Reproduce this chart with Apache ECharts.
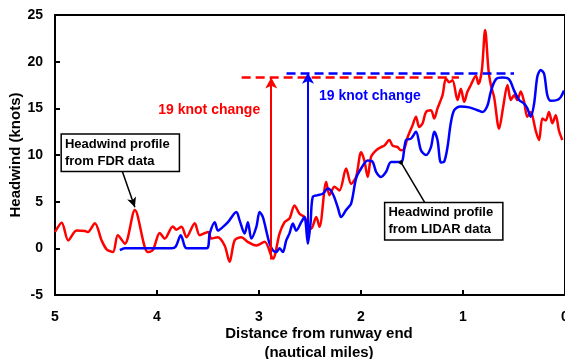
<!DOCTYPE html>
<html>
<head>
<meta charset="utf-8">
<script src="https://cdn.jsdelivr.net/npm/echarts@6/dist/echarts.min.js"></script>
<style>
	html, body { margin: 0; padding: 0; background: #fff; }
	#main { width: 565px; height: 359px; }
</style>
</head>
<body>
<div id="main"></div>
<script>
// distance from runway end (nm) / headwind (knots)
var fdrDist = [5.00, 4.934, 4.870, 4.788, 4.706, 4.677, 4.609, 4.543, 4.494, 4.432, 4.384, 4.315, 4.217,
	4.090, 4.041, 3.973, 3.924, 3.845, 3.809, 3.760, 3.711, 3.630, 3.581, 3.500, 3.467, 3.405, 3.337,
	3.288, 3.239, 3.173, 3.112, 3.026, 2.945, 2.864, 2.798, 2.750, 2.701, 2.652, 2.603, 2.554, 2.488,
	2.439, 2.407, 2.341, 2.309, 2.260, 2.211, 2.146, 2.097, 2.048, 1.999, 1.967, 1.934, 1.901, 1.852,
	1.803, 1.771, 1.722, 1.690, 1.641, 1.608, 1.575, 1.543, 1.494, 1.461, 1.429, 1.396, 1.363, 1.314,
	1.282, 1.250, 1.201, 1.167, 1.135, 1.103, 1.054, 1.021, 0.988, 0.956, 0.923, 0.874, 0.848, 0.815,
	0.783, 0.750, 0.727, 0.695, 0.646, 0.607, 0.564, 0.531, 0.499, 0.467, 0.434, 0.401, 0.369, 0.336,
	0.287, 0.254, 0.222, 0.189, 0.157, 0.124, 0.091, 0.059, 0.026];
var fdrKnots = [1.75, 2.75, 0.85, 1.9, 1.85, 1.75, 2.7, 0.85, -0.1, -0.4, 1.4, 0.5, 4.1,
	-0.4, -0.2, 1.65, 1.05, 2.35, 2.0, 2.3, 1.2, 2.7, 1.4, 1.75, 1.05, 1.2, 0.3,
	-1.45, 0.85, 1.2, 0.7, 0.3, 0.7, -1.1, 1.6, 2.8, 3.2, 4.6, 3.7, 3.35, 2.1,
	3.35, 2.3, 7.1, 5.7, 6.6, 6.2, 8.55, 6.9, 7.65, 10.3, 9.4, 7.65, 9.8, 10.5,
	10.85, 11.0, 11.6, 11.0, 10.85, 10.5, 10.7, 11.9, 13.2, 14.1, 13.0, 13.4, 14.6, 14.8,
	13.9, 15.0, 16.4, 18.2, 17.8, 18.0, 15.9, 17.1, 15.7, 16.8, 17.5, 18.5, 17.6, 19.1,
	23.4, 19.1, 17.5, 16.2, 12.8, 15.1, 17.5, 15.9, 16.4, 15.9, 16.8, 15.7, 14.1, 14.6,
	12.6, 11.6, 13.9, 13.7, 14.6, 13.4, 14.25, 12.6, 11.6];

var lidarDist = [4.364, 4.315, 3.855, 3.816, 3.767, 3.728, 3.708, 3.513, 3.483, 3.434, 3.402, 3.353,
	3.304, 3.222, 3.190, 3.141, 3.109, 3.075, 3.026, 2.994, 2.962, 2.929, 2.896, 2.864, 2.831, 2.798,
	2.766, 2.733, 2.701, 2.668, 2.635, 2.586, 2.554, 2.521, 2.495, 2.473, 2.424, 2.375, 2.326, 2.277,
	2.228, 2.195, 2.146, 2.097, 2.048, 1.999, 1.934, 1.885, 1.852, 1.803, 1.754, 1.705, 1.608, 1.559,
	1.510, 1.461, 1.412, 1.363, 1.314, 1.282, 1.250, 1.216, 1.184, 1.152, 1.120, 1.086, 1.025, 0.939,
	0.858, 0.809, 0.760, 0.727, 0.678, 0.614, 0.548, 0.499, 0.450, 0.401, 0.369, 0.336, 0.303, 0.271,
	0.238, 0.205, 0.173, 0.140, 0.075, 0.042, 0.010];
var lidarKnots = [-0.2, 0, 0, 0.2, 1.4, 0.2, 0, 0, 1.6, 2.8, 1.9, 2.3,
	2.8, 3.9, 3.0, 1.6, 2.8, 1.05, 2.3, 3.9, 3.35, 1.9, 0.5, -0.2, -0.4, 0,
	-0.4, 0.85, 1.6, 2.65, 1.9, 2.8, 3.35, 0.5, 2.7, 5.5, 5.7, 5.85, 6.4, 5.85,
	4.4, 3.35, 4.1, 4.8, 7.5, 8.55, 9.4, 9.25, 8.2, 7.65, 8.2, 9.25, 9.25, 11.6,
	11.75, 12.5, 10.5, 10.0, 10.85, 12.5, 11.6, 9.2, 9.3, 10.85, 13.4, 14.8, 15.2, 15.1,
	14.8, 14.6, 15.3, 16.8, 18.1, 18.3, 18.1, 16.9, 15.9, 15.5, 15.0, 14.1, 15.5, 18.4,
	19.1, 18.7, 16.4, 15.8, 15.9, 16.2, 16.9];

// annotations: [distance, knots]
var fdrLevel = [[3.17, 18.3], [1.04, 18.3]];
var lidarLevel = [[2.73, 18.8], [0.50, 18.8]];
var fdrArrow = [[2.88, -1.2], [2.88, 18.3]];
var lidarArrow = [[2.52, 0.5], [2.52, 18.8]];
var fdrChangeText = [3.488, 14.8];
var lidarChangeText = [1.913, 16.3];
var fdrBox = [4.932, 10.24];
var lidarBox = [1.761, 2.89];
var fdrPointer = [[4.344, 8.36], [4.217, 4.39]];
var lidarPointer = [[1.37, 4.82], [1.608, 9.2]];

var xTicks = [0, 1, 2, 3, 4, 5];
var yTicks = [-5, 0, 5, 10, 15, 20, 25];

function pairs(xs, ys) {
	var out = [];
	for (var i = 0; i < xs.length; i++) {
		out.push([xs[i], ys[i]]);
	}
	return out;
}

var FONT = "'Liberation Sans', Arial, sans-serif";

function boxLabel(text) {
	return {
		show : true,
		position : 'inside',
		align : 'left',
		verticalAlign : 'middle',
		formatter : text,
		color : '#000',
		fontFamily : FONT,
		fontWeight : 'bold',
		fontSize : 13,
		lineHeight : 17,
		backgroundColor : '#fff',
		borderColor : '#000',
		borderWidth : 1.5,
		padding : [ 1, 9, 1, 3 ]
	};
}

function changeLabel(color) {
	return {
		show : true,
		position : 'inside',
		formatter : '19 knot change',
		color : color,
		fontFamily : FONT,
		fontWeight : 'bold',
		fontSize : 14
	};
}

var myChart = echarts.init(document.getElementById('main'));
var option = {
	animation : false,
	grid : {
		left : 55,
		right : 0,
		top : 15,
		bottom : 64,
		outerBoundsMode : 'none',
		containLabel : false,
		show : true,
		borderColor : '#000',
		borderWidth : 2
	},
	xAxis : {
		type : 'value',
		inverse : true,
		min : xTicks[0],
		max : xTicks[xTicks.length - 1],
		interval : 1,
		name : 'Distance from runway end\n(nautical miles)',
		nameLocation : 'middle',
		nameGap : 29,
		nameMoveOverlap : false,
		nameTextStyle : {
			color : '#000',
			fontFamily : FONT,
			fontWeight : 'bold',
			fontSize : 15,
			lineHeight : 19,
			padding : [ 0, 0, 0, 18 ]
		},
		axisLine : { onZero : false, lineStyle : { color : '#000', width : 2 } },
		axisTick : { inside : true, length : 5, lineStyle : { color : '#000', width : 2 } },
		axisLabel : {
			color : '#000',
			fontFamily : FONT,
			fontWeight : 'bold',
			fontSize : 14,
			margin : 15
		},
		splitLine : { show : false }
	},
	yAxis : {
		type : 'value',
		min : yTicks[0],
		max : yTicks[yTicks.length - 1],
		interval : 5,
		name : 'Headwind (knots)',
		nameLocation : 'middle',
		nameGap : 32,
		nameMoveOverlap : false,
		nameTextStyle : {
			color : '#000',
			fontFamily : FONT,
			fontWeight : 'bold',
			fontSize : 15
		},
		axisLine : { onZero : false, lineStyle : { color : '#000', width : 2 } },
		axisTick : { inside : true, length : 5, lineStyle : { color : '#000', width : 2 } },
		axisLabel : {
			color : '#000',
			fontFamily : FONT,
			fontWeight : 'bold',
			fontSize : 14,
			margin : 12
		},
		splitLine : { show : false }
	},
	series : [ {
		name : 'FDR',
		type : 'line',
		data : pairs(fdrDist, fdrKnots),
		smooth : 0.3,
		showSymbol : false,
		lineStyle : { color : '#ff0000', width : 2.5 },
		markLine : {
			silent : true,
			label : { show : false },
			data : [ [ {
				coord : fdrLevel[0],
				symbol : 'none',
				lineStyle : { color : '#ff0000', width : 2.5, type : [ 9, 5 ] }
			}, {
				coord : fdrLevel[1],
				symbol : 'none'
			} ], [ {
				coord : fdrArrow[0],
				symbol : 'none',
				lineStyle : { color : '#ff0000', width : 2, type : 'solid' }
			}, {
				coord : fdrArrow[1],
				symbol : 'arrow',
				symbolSize : [ 9, 11 ]
			} ], [ {
				coord : fdrPointer[0],
				symbol : 'none',
				lineStyle : { color : '#000', width : 1.5, type : 'solid' }
			}, {
				coord : fdrPointer[1],
				symbol : 'arrow',
				symbolSize : [ 7, 10 ]
			} ] ]
		},
		markPoint : {
			silent : true,
			symbol : 'rect',
			symbolSize : 1,
			itemStyle : { color : 'rgba(0,0,0,0)' },
			data : [ {
				coord : fdrChangeText,
				label : changeLabel('#ff0000')
			}, {
				coord : fdrBox,
				label : boxLabel('Headwind profile\nfrom FDR data')
			} ]
		}
	}, {
		name : 'LIDAR',
		type : 'line',
		data : pairs(lidarDist, lidarKnots),
		smooth : 0.3,
		showSymbol : false,
		lineStyle : { color : '#0000ff', width : 2.5 },
		markLine : {
			silent : true,
			label : { show : false },
			data : [ [ {
				coord : lidarLevel[0],
				symbol : 'none',
				lineStyle : { color : '#0000ff', width : 2.5, type : [ 9, 5 ] }
			}, {
				coord : lidarLevel[1],
				symbol : 'none'
			} ], [ {
				coord : lidarArrow[0],
				symbol : 'none',
				lineStyle : { color : '#0000ff', width : 2, type : 'solid' }
			}, {
				coord : lidarArrow[1],
				symbol : 'arrow',
				symbolSize : [ 9, 11 ]
			} ], [ {
				coord : lidarPointer[0],
				symbol : 'none',
				lineStyle : { color : '#000', width : 1.5, type : 'solid' }
			}, {
				coord : lidarPointer[1],
				symbol : 'circle',
				symbolSize : 4
			} ] ]
		},
		markPoint : {
			silent : true,
			symbol : 'rect',
			symbolSize : 1,
			itemStyle : { color : 'rgba(0,0,0,0)' },
			data : [ {
				coord : lidarChangeText,
				label : changeLabel('#0000ff')
			}, {
				coord : lidarBox,
				label : boxLabel('Headwind profile\nfrom LIDAR data')
			} ]
		}
	} ]
};
myChart.setOption(option);
</script>
</body>
</html>
